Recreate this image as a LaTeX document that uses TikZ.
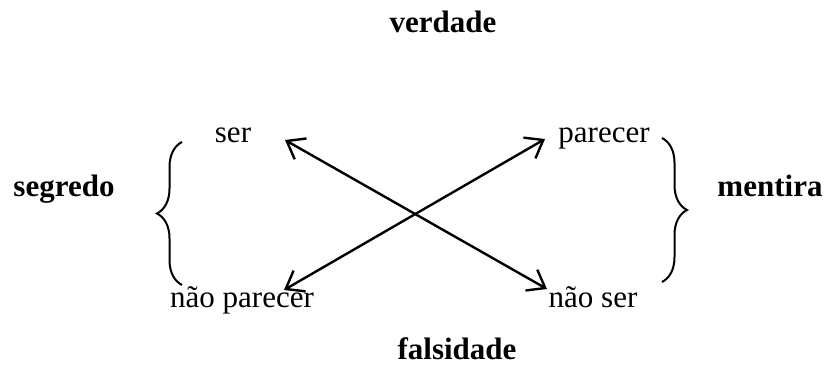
\documentclass[tikz,border=0pt]{standalone}
\usepackage{fontspec}
\setmainfont{Liberation Serif}
\usetikzlibrary{arrows.meta,decorations.pathreplacing}
\begin{document}
\begin{tikzpicture}[x=1pt,y=1pt,
  lbl/.style={anchor=base,inner sep=0pt,font=\fontsize{31}{37}\selectfont},
  blbl/.style={lbl,font=\fontsize{31}{37}\selectfont\bfseries},
  arr/.style={line width=2.4pt,{Straight Barb[length=16pt,width=24pt]}-{Straight Barb[length=16pt,width=24pt]}},
  brc/.style={line width=2pt,decorate,decoration={brace,amplitude=25pt}}]
\useasboundingbox (0,0) rectangle (827,367);
\node[blbl] (verdade) at (443,334) {verdade};
\node[blbl] (falsidade) at (457,8) {falsidade};
\node[blbl] (segredo) at (64,170) {segredo};
\node[blbl] (mentira) at (770,170) {mentira};
\node[lbl] (ser) at (233,224) {ser};
\node[lbl] (parecer) at (604,224) {parecer};
\node[lbl] (naoparecer) at (242,60) {não parecer};
\node[lbl] (naoser) at (593,60) {não ser};
\coordinate (a1) at (285,227);
\coordinate (a2) at (547,78);
\coordinate (b1) at (284,77);
\coordinate (b2) at (545,228);
\draw[arr] (a1) -- (a2);
\draw[arr] (b1) -- (b2);
\coordinate (l1) at (182,82);
\coordinate (l2) at (182,225);
\coordinate (r1) at (662,229);
\coordinate (r2) at (662,85);
\draw[brc] (l1) -- (l2);
\draw[brc] (r1) -- (r2);
\end{tikzpicture}
\end{document}
